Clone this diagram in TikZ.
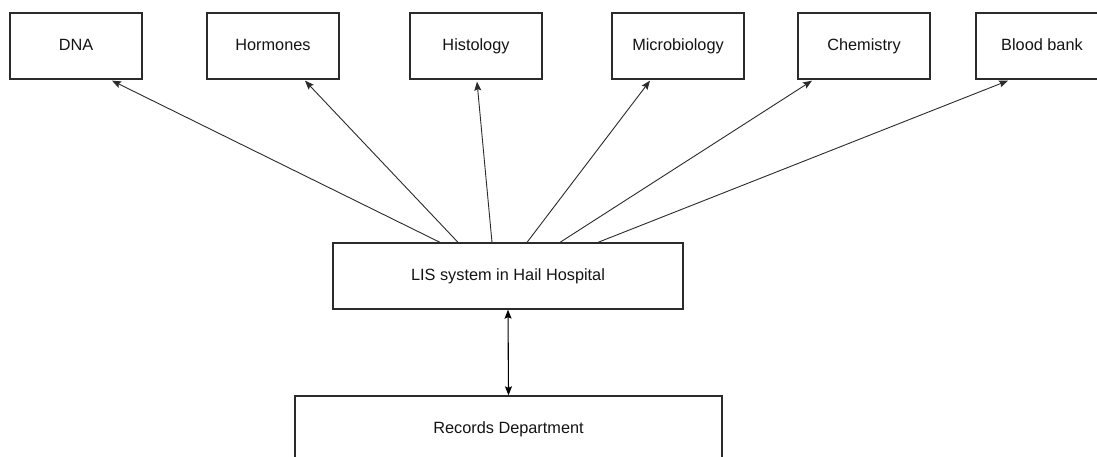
\documentclass[tikz,border=0pt]{standalone}
\usepackage{fontspec}
\setmainfont{Liberation Sans}
\usetikzlibrary{arrows.meta}
\definecolor{linegray}{HTML}{2B2B2B}
\definecolor{textgray}{HTML}{141414}
\begin{document}
\begin{tikzpicture}[x=1pt,y=-1pt,
  unit/.style={draw=linegray, line width=1.3pt, minimum width=132pt, minimum height=66pt,
    inner sep=0pt, text height=12pt, text depth=3.5pt,
    font=\fontsize{16.3}{19}\selectfont, text=textgray},
  wide/.style={unit, minimum width=#1},
  link/.style={draw=linegray, line width=0.9pt, -{Stealth[length=9pt,width=7pt,inset=1.5pt]}},
  twoway/.style={draw=black, line width=1.1pt, {Stealth[length=9pt,width=7pt,inset=1.5pt]}-{Stealth[length=9pt,width=7pt,inset=1.5pt]}}
]
\clip (0,0) rectangle (1097,456);
\fill[white] (0,0) rectangle (1097,456);

% laboratory sections
\node[unit] (dna)   at (76,46)   {DNA};
\node[unit] (horm)  at (273,46)  {Hormones};
\node[unit] (hist)  at (476,46)  {Histology};
\node[unit] (micro) at (678,46)  {Microbiology};
\node[unit] (chem)  at (864,46)  {Chemistry};
\node[unit] (blood) at (1042,46) {Blood bank};

% central system and records
\node[wide=350pt] (lis) at (508,276) {LIS system in Hail Hospital};
\node[wide=427pt] (rec) at (508.5,429) {Records Department};

% links from the LIS to each section
\draw[link] ([xshift=-68pt]lis.north) -- ([xshift=36pt,yshift=-1pt]dna.south);
\draw[link] ([xshift=-50pt]lis.north) -- ([xshift=32pt,yshift=-1pt]horm.south);
\draw[link] ([xshift=-16pt]lis.north) -- ([xshift=1pt,yshift=-2pt]hist.south);
\draw[link] ([xshift=19pt]lis.north)  -- ([xshift=-28pt,yshift=-1pt]micro.south);
\draw[link] ([xshift=52pt]lis.north)  -- ([xshift=-52pt,yshift=-1pt]chem.south);
\draw[link] ([xshift=90pt]lis.north)  -- ([xshift=-34pt,yshift=-1pt]blood.south);

% exchange with the records department
\draw[twoway] (lis.south) -- (rec.north);
\end{tikzpicture}
\end{document}
